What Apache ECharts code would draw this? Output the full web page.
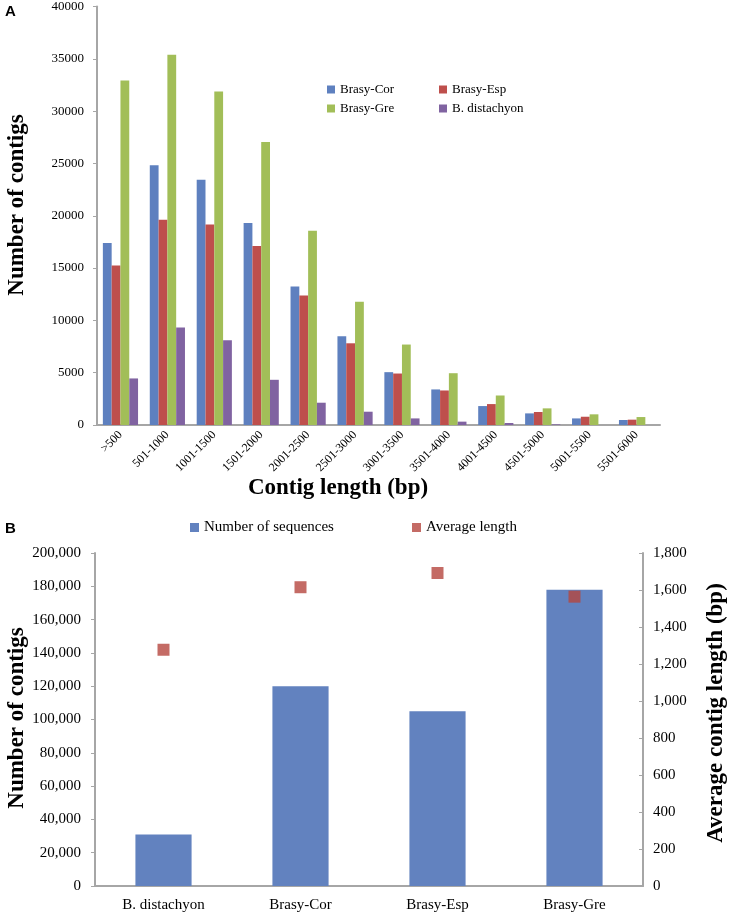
<!DOCTYPE html>
<html>
<head>
<meta charset="utf-8">
<script src="https://cdn.jsdelivr.net/npm/echarts@6/dist/echarts.min.js"></script>
<style>html,body{margin:0;padding:0;background:#fff}#c{width:733px;height:913px}</style>
</head>
<body>
<div id="c"></div>
<script>
// ---- Panel A data ----
const lengthBins = ['>500','501-1000','1001-1500','1501-2000','2001-2500','2501-3000','3001-3500','3501-4000','4001-4500','4501-5000','5001-5500','5501-6000'];
const brasyCor = [17400, 24830, 23430, 19300, 13240, 8480, 5050, 3400, 1810, 1110, 630, 480];
const brasyEsp = [15240, 19620, 19170, 17110, 12380, 7810, 4920, 3300, 2000, 1240, 790, 510];
const brasyGre = [32920, 35400, 31880, 27050, 18570, 11780, 7690, 4950, 2820, 1590, 1020, 760];
const bDistachyon = [4450, 9330, 8100, 4320, 2130, 1270, 630, 320, 190, 60, 0, 0];

// ---- Panel B data ----
const species = ['B. distachyon','Brasy-Cor','Brasy-Esp','Brasy-Gre'];
const numSequences = [31000, 120000, 105000, 178000];
const avgLength = [1277, 1615, 1692, 1564];

const serif = 'Liberation Serif';
const axisGray = '#A6A6A6';
const cBlue = '#5E80BF', cRed = '#BE4F4C', cGreen = '#A2BE58', cPurple = '#8063A1';

const chart = echarts.init(document.getElementById('c'), null, {renderer:'canvas'});
const option = {
  animation: false,
  backgroundColor: '#fff',
  grid: [
    {left: 97, right: 73, top: 5, bottom: 488},
    {left: 95, right: 90, top: 553, bottom: 26}
  ],
  legend: [
    {left: 322, top: 78, orient: 'vertical', itemWidth: 8, itemHeight: 8, itemGap: 6, icon: 'rect',
     textStyle: {fontFamily: serif, fontSize: 13, color: '#000'}, data: ['Brasy-Cor','Brasy-Gre']},
    {left: 434, top: 78, orient: 'vertical', itemWidth: 8, itemHeight: 8, itemGap: 6, icon: 'rect',
     textStyle: {fontFamily: serif, fontSize: 13, color: '#000'}, data: ['Brasy-Esp','B. distachyon']},
    {left: 185, top: 515, itemWidth: 9, itemHeight: 9, icon: 'rect',
     textStyle: {fontFamily: serif, fontSize: 15, color: '#000'}, data: ['Number of sequences']},
    {left: 407, top: 515, itemWidth: 9, itemHeight: 9, icon: 'rect',
     textStyle: {fontFamily: serif, fontSize: 15, color: '#000'}, data: ['Average length']}
  ],
  xAxis: [
    {type: 'category', gridIndex: 0, data: lengthBins,
     axisLine: {lineStyle: {color: axisGray, width: 2}}, axisTick: {show: false},
     axisLabel: {rotate: 45, fontFamily: serif, fontSize: 12, color: '#000', margin: 8, interval: 0}},
    {type: 'category', gridIndex: 1, data: species,
     axisLine: {lineStyle: {color: axisGray, width: 2}}, axisTick: {show: false},
     axisLabel: {fontFamily: serif, fontSize: 15, color: '#000', margin: 12, interval: 0}}
  ],
  yAxis: [
    {type: 'value', gridIndex: 0, min: 0, max: 40000, interval: 5000,
     axisLine: {show: true, lineStyle: {color: axisGray, width: 2}},
     axisTick: {show: true, length: 4, lineStyle: {color: axisGray}},
     splitLine: {show: false},
     axisLabel: {fontFamily: serif, fontSize: 13, color: '#000', margin: 13,
       formatter: v => String(v)}},
    {type: 'value', gridIndex: 1, min: 0, max: 200000, interval: 20000,
     axisLine: {show: true, lineStyle: {color: axisGray, width: 2}},
     axisTick: {show: true, length: 4, lineStyle: {color: axisGray}},
     splitLine: {show: false},
     axisLabel: {fontFamily: serif, fontSize: 15, color: '#000', margin: 14,
       formatter: v => v.toLocaleString('en-US')}},
    {type: 'value', gridIndex: 1, position: 'right', min: 0, max: 1800, interval: 200,
     axisLine: {show: true, lineStyle: {color: axisGray, width: 2}},
     axisTick: {show: true, inside: true, length: 4, lineStyle: {color: axisGray}},
     splitLine: {show: false},
     axisLabel: {fontFamily: serif, fontSize: 15, color: '#000', margin: 10,
       formatter: v => v.toLocaleString('en-US')}}
  ],
  series: [
    {name: 'Brasy-Cor', type: 'bar', xAxisIndex: 0, yAxisIndex: 0, data: brasyCor, itemStyle: {color: cBlue}, barGap: '0%', barCategoryGap: '25%'},
    {name: 'Brasy-Esp', type: 'bar', xAxisIndex: 0, yAxisIndex: 0, data: brasyEsp, itemStyle: {color: cRed}, barGap: '0%', barCategoryGap: '25%'},
    {name: 'Brasy-Gre', type: 'bar', xAxisIndex: 0, yAxisIndex: 0, data: brasyGre, itemStyle: {color: cGreen}, barGap: '0%', barCategoryGap: '25%'},
    {name: 'B. distachyon', type: 'bar', xAxisIndex: 0, yAxisIndex: 0, data: bDistachyon, itemStyle: {color: cPurple}, barGap: '0%', barCategoryGap: '25%'},
    {name: 'Number of sequences', type: 'bar', xAxisIndex: 1, yAxisIndex: 1, data: numSequences, barWidth: '41%',
     itemStyle: {color: '#6282BF'}},
    {name: 'Average length', type: 'scatter', xAxisIndex: 1, yAxisIndex: 2, data: avgLength, symbol: 'rect', symbolSize: 12,
     itemStyle: {color: '#B5463F'}, z: 5}
  ],
  graphic: [
    {type: 'text', left: 5, top: 4, style: {text: 'A', font: 'bold 15px "Liberation Sans"', fill: '#000'}},
    {type: 'text', left: 5, top: 521, style: {text: 'B', font: 'bold 15px "Liberation Sans"', fill: '#000'}},
    {type: 'text', x: 17, y: 205, rotation: Math.PI / 2,
     style: {text: 'Number of contigs', font: 'bold 23px "Liberation Serif"', fill: '#000', textAlign: 'center', textVerticalAlign: 'middle'}},
    {type: 'text', x: 338, y: 488,
     style: {text: 'Contig length (bp)', font: 'bold 23px "Liberation Serif"', fill: '#000', textAlign: 'center', textVerticalAlign: 'middle'}},
    {type: 'text', x: 17, y: 718, rotation: Math.PI / 2,
     style: {text: 'Number of contigs', font: 'bold 23px "Liberation Serif"', fill: '#000', textAlign: 'center', textVerticalAlign: 'middle'}},
    {type: 'text', x: 716, y: 713, rotation: Math.PI / 2,
     style: {text: 'Average contig length (bp)', font: 'bold 23px "Liberation Serif"', fill: '#000', textAlign: 'center', textVerticalAlign: 'middle'}}
  ]
};
chart.setOption(option);
</script>
</body>
</html>
